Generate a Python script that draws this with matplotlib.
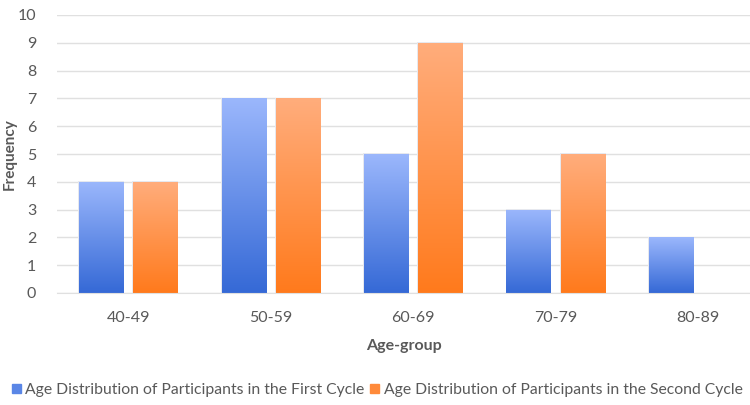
import numpy as np
import matplotlib
matplotlib.use('Agg')
import matplotlib.pyplot as plt
from matplotlib.colors import LinearSegmentedColormap
from matplotlib.patches import Patch

plt.rcParams['font.family'] = ['Lato', 'DejaVu Sans']

groups = ['40-49', '50-59', '60-69', '70-79', '80-89']
first_cycle = [4, 7, 5, 3, 2]
second_cycle = [4, 7, 9, 5, 0]
names = ['Age Distribution of Participants in the First Cycle',
         'Age Distribution of Participants in the Second Cycle']

text_col = '#595959'
blue_top, blue_bot = '#9BB7FC', '#3569D6'
orng_top, orng_bot = '#FFAD7C', '#FF7A1C'

fig = plt.figure(figsize=(7.5, 4.05), dpi=100)
ax_w = 1 - 57/750
ax = fig.add_axes([57/750, 1 - 293/405, ax_w, 278/405])

x = np.arange(len(groups))
w = 0.31
off = 0.19
b1 = ax.bar(x - off, first_cycle, w, color='none', edgecolor='none')
b2 = ax.bar(x + off, second_cycle, w, color='none', edgecolor='none')

grad = np.linspace(0, 1, 256).reshape(-1, 1)
for bars, top, bot in [(b1, blue_top, blue_bot), (b2, orng_top, orng_bot)]:
    cmap = LinearSegmentedColormap.from_list('g', [bot, top])
    for r in bars:
        h = r.get_height()
        if h <= 0:
            continue
        x0 = r.get_x()
        # faint shadow round each bar
        ax.add_patch(plt.Rectangle((x0 - 0.006, 0), r.get_width() + 0.012, h + 0.02,
                                   color='#e6e8ee', zorder=1.5, lw=0))
        im = ax.imshow(grad, extent=(x0, x0 + r.get_width(), 0, h), origin='lower',
                       aspect='auto', cmap=cmap, zorder=2)
        im.set_clip_path(r)

ax.set_xlim(-0.5, 4.365)
ax.set_ylim(0, 10)
ax.set_yticks(range(0, 11))
ax.set_xticks(x)
ax.set_xticklabels(groups)
ax.grid(axis='y', color='#e0e0e0', lw=1)
ax.set_axisbelow(True)
for s in ax.spines.values():
    s.set_visible(False)
ax.spines['bottom'].set_visible(True)
ax.spines['bottom'].set_color('#e0e0e0')
ax.tick_params(length=0, colors=text_col, labelsize=11.5)
ax.tick_params(axis='x', pad=13)
ax.tick_params(axis='y', pad=15)

ax.set_ylabel('Frequency', fontsize=11, fontweight='bold', color=text_col)
ax.yaxis.set_label_coords(-40/(ax_w*750), 0.5)
ax.set_xlabel('Age-group', fontsize=11.5, fontweight='bold', color=text_col, labelpad=10)

handles = [Patch(color='#5a86e6'), Patch(color='#ff8a3a')]
fig.legend(handles, names, loc='center', bbox_to_anchor=(0.503, 1 - 390/405), ncol=2,
           frameon=False, fontsize=11.3, labelcolor=text_col, handlelength=0.55,
           handleheight=0.55, handletextpad=0.3, columnspacing=0.35)

fig.savefig('out.png', dpi=100)
